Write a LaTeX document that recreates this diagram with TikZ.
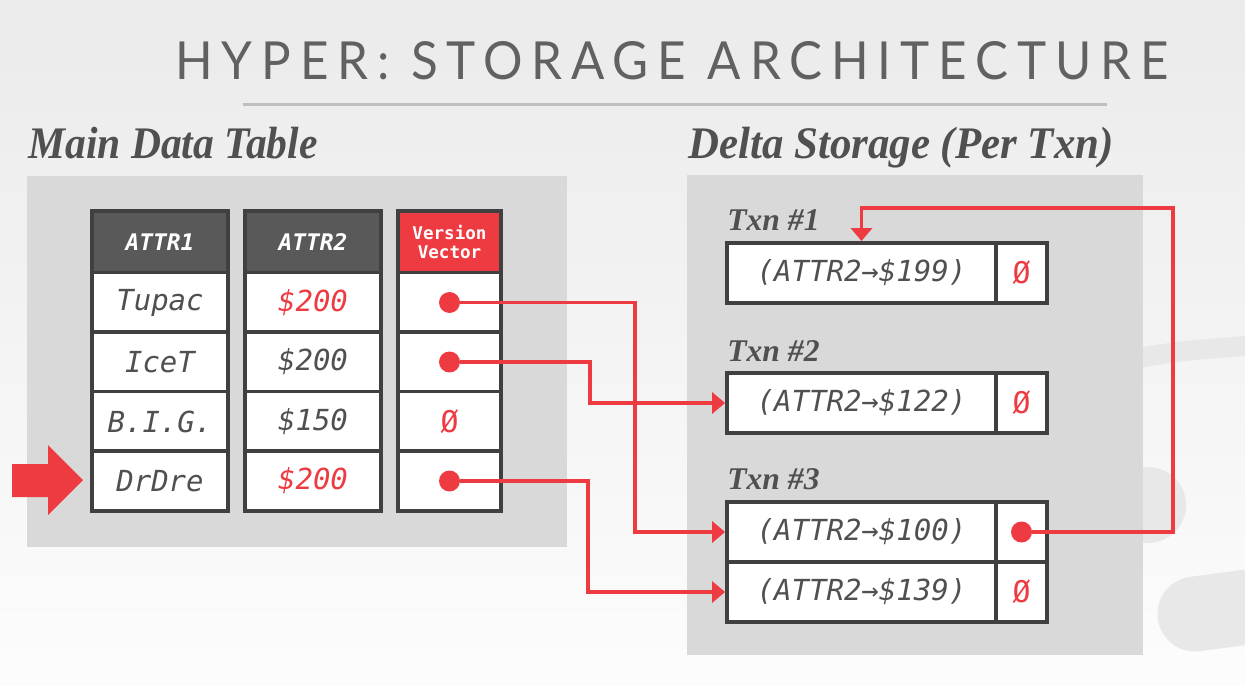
\documentclass[tikz,border=0pt]{standalone}
\usepackage{fontspec}
\usepackage{tikz}
\usepackage{xcolor}
\usetikzlibrary{arrows.meta}
\setmainfont{Liberation Serif}
\newfontfamily\monof{DejaVu Sans Mono}
\newfontfamily\titlef[LetterSpace=18]{Lato}
\definecolor{hred}{HTML}{EE3B42}
\definecolor{hdark}{HTML}{595959}
\definecolor{hline}{HTML}{404040}
\definecolor{htxt}{HTML}{505050}
\definecolor{hpanel}{HTML}{D9D9D9}
\definecolor{hmark}{HTML}{E8E8E8}

\begin{document}
\begin{tikzpicture}[x=0.02cm,y=-0.02cm]%
  \tikzstyle{cellt}=[rectangle,draw=hline,line width=2.2pt,fill=white,inner sep=0,
    minimum width=2.72cm,minimum height=1.2cm,text=htxt,
    font=\monof\itshape\fontsize{16.5}{18}\selectfont]
  \tikzstyle{hdrt}=[cellt,fill=hdark,text=white,minimum height=1.24cm,
    font=\monof\bfseries\itshape\fontsize{13}{15}\selectfont]
  \tikzstyle{vvt}=[hdrt,fill=hred,minimum width=2.06cm,align=center,
    font=\monof\bfseries\fontsize{10}{11.3}\selectfont]
  \tikzstyle{vcellt}=[cellt,minimum width=2.06cm]
  \tikzstyle{nullt}=[text=hred,font=\monof\fontsize{17}{18}\selectfont]
  \tikzstyle{dlt}=[cellt,minimum width=5.38cm]
  \tikzstyle{dpt}=[cellt,minimum width=1.02cm]
  \tikzstyle{dotn}=[circle,fill=hred,minimum size=0.42cm,inner sep=0]
  \tikzstyle{ptrn}=[draw=hred,line width=2.1pt,-{Triangle[length=0.26cm,width=0.42cm]}]
  \tikzstyle{headl}=[anchor=base west,inner sep=0,text=htxt,
    font=\bfseries\itshape\fontsize{25.7}{28}\selectfont]
  \tikzstyle{txnl}=[anchor=base west,inner sep=0,text=htxt,
    font=\bfseries\itshape\fontsize{18}{20}\selectfont]
  % page and background
  \useasboundingbox (0,0) rectangle (1245,686);
  \shade[top color=black!8,bottom color=black!1] (0,0) rectangle (1245,686);
  \draw[hmark,line width=0.4cm,line cap=round] (1143,357) .. controls (1190,350) .. (1260,345);
  \fill[hmark] (1148,505) circle (0.76cm);
  \draw[hmark,line width=1.5cm,line cap=round] (1195,614) -- (1300,600);
  % title
  \node(title)[anchor=south west,inner sep=0,text=black!62] at (175,80)
    {\resizebox{19.86cm}{0.76cm}{\titlef HYPER: STORAGE ARCHITECTURE}};
  \draw[black!25,line width=0.06cm] (243,105) -- (1107,105);
  \node(mainh)[headl] at (28,158) {\scalebox{0.92}[1]{Main Data Table}};
  \node(deltah)[headl] at (688,158) {\scalebox{0.95}[1]{Delta Storage (Per Txn)}};
  \fill[hpanel] (27,176) rectangle (567,547);
  \fill[hpanel] (687,175) rectangle (1143,655);
  % main data table
  \node(h1)[hdrt] at (160,242) {ATTR1};
  \node(h2)[hdrt] at (313,242) {ATTR2};
  \node(h3)[vvt] at (449.5,242) {Version\\Vector};
  \node(a1)[cellt] at (160,302.5) {Tupac};
  \node(a2)[cellt] at (160,362) {IceT};
  \node(a3)[cellt] at (160,421.5) {B.I.G.};
  \node(a4)[cellt] at (160,481) {DrDre};
  \node(v1)[cellt,text=hred] at (313,302.5) {\$200};
  \node(v2)[cellt] at (313,362) {\$200};
  \node(v3)[cellt] at (313,421.5) {\$150};
  \node(v4)[cellt,text=hred] at (313,481) {\$200};
  \node(p1)[vcellt] at (449.5,302.5) {};
  \node(p2)[vcellt] at (449.5,362) {};
  \node(p3)[vcellt,nullt] at (449.5,421.5) {Ø};
  \node(p4)[vcellt] at (449.5,481) {};
  \fill[hred] (12,464) -- (48,464) -- (48,445) -- (83,480) -- (48,515) -- (48,497) -- (12,497) -- cycle;
  % delta storage
  \node(t1)[txnl] at (727,231) {Txn \#1};
  \node(t2)[txnl] at (727,361) {Txn \#2};
  \node(t3)[txnl] at (727,489) {Txn \#3};
  \node(b1)[dlt] at (861.5,273) {(ATTR2→\$199)};
  \node(e1)[dpt,nullt] at (1021.5,273) {Ø};
  \node(b2)[dlt] at (861.5,403) {(ATTR2→\$122)};
  \node(e2)[dpt,nullt] at (1021.5,403) {Ø};
  \node(b3)[dlt] at (861.5,532) {(ATTR2→\$100)};
  \node(e3)[dpt] at (1021.5,532) {};
  \node(b4)[dlt] at (861.5,592) {(ATTR2→\$139)};
  \node(e4)[dpt,nullt] at (1021.5,592) {Ø};
  % version pointers
  \coordinate(k1) at (635,0);
  \coordinate(k2) at (590,0);
  \coordinate(k3) at (588,0);
  \coordinate(k4) at (1173,208);
  \node(d1)[dotn] at (p1) {};
  \node(d2)[dotn] at (p2) {};
  \node(d4)[dotn] at (p4) {};
  \node(d5)[dotn] at (e3) {};
  \draw[ptrn] (d1) -- (d1 -| k1) |- (b3.west);
  \draw[ptrn] (d2) -- (d2 -| k2) |- (b2.west);
  \draw[ptrn] (d4) -- (d4 -| k3) |- (b4.west);
  \draw[ptrn] (d5) -| (k4) -| (b1.north);
\end{tikzpicture}
\end{document}
